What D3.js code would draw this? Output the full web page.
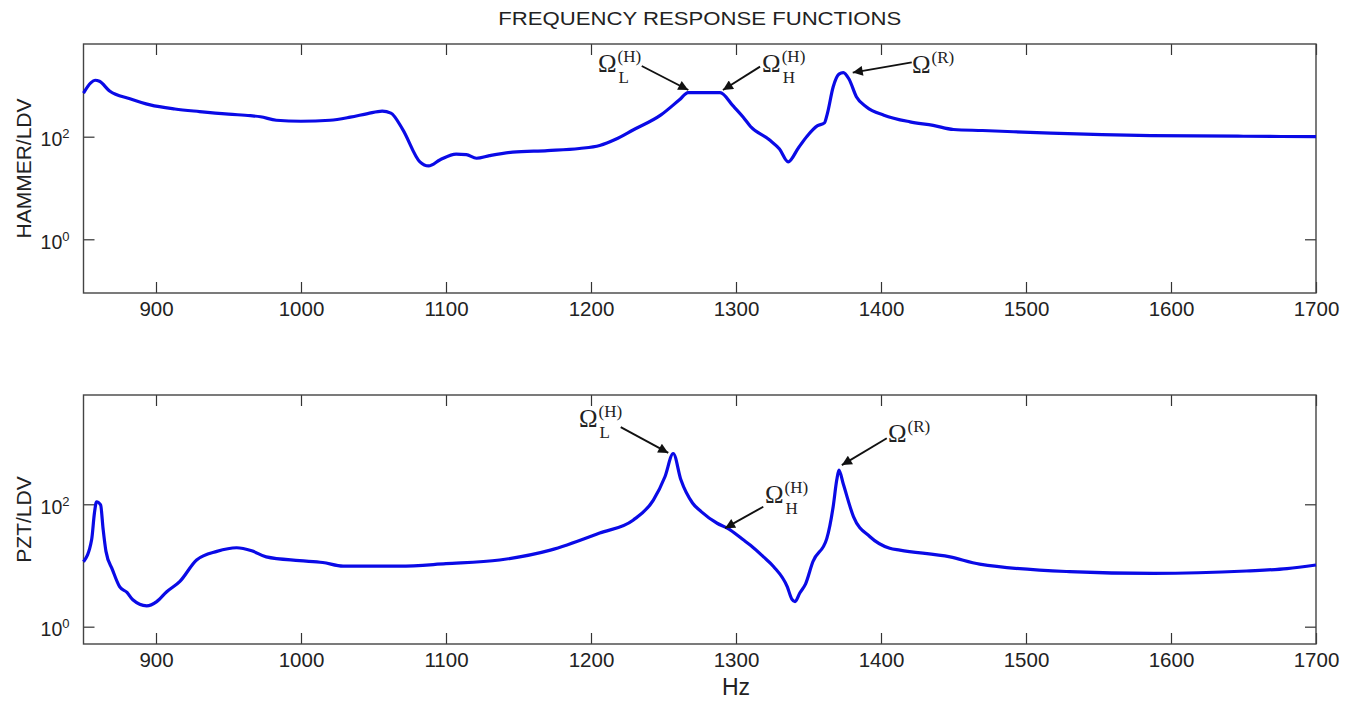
<!DOCTYPE html>
<html>
<head>
    <title>Frequency Response Functions</title>
    <script src="https://d3js.org/d3.v7.min.js"></script>
    <style>
        body { margin: 0; background: #fff; }
        text { font-family: Arial, "Liberation Sans", sans-serif; fill: #222; }
        .greek text { font-family: "Times New Roman", "Liberation Serif", serif; }
    </style>
</head>
<body>
    <script>
        // frequency axis (Hz)
        var freqTicks = [900, 1000, 1100, 1200, 1300, 1400, 1500, 1600, 1700];

        // HAMMER/LDV response
        var hammerFreq = [850, 855, 858, 861, 868, 882, 896, 913, 930, 950, 965, 972, 983, 1000, 1020, 1034, 1046, 1056, 1062, 1070,
                          1082, 1088, 1096, 1107, 1114, 1121, 1130, 1146, 1170, 1192, 1206, 1217, 1229, 1248, 1261, 1267, 1289,
                          1298, 1305, 1310, 1323, 1330, 1336, 1343, 1349, 1356, 1361, 1363, 1367, 1371, 1374, 1378, 1383, 1390,
                          1402, 1420, 1436, 1450, 1470, 1517, 1586, 1650, 1700];
        var hammerMag  = [708, 1122, 1259, 1202, 776, 550, 417, 347, 309, 275, 257, 245, 209, 200, 209, 240, 282, 316, 288, 141,
                          32.4, 26.9, 35.5, 45.7, 44.7, 38, 42.7, 50.1, 53.7, 58.9, 67.6, 89.1, 135, 263, 525, 724, 724,
                          398, 240, 158, 87.1, 57.5, 32.4, 60.3, 102, 162, 186, 282, 933, 1660, 1778, 1318, 603, 380,
                          263, 195, 166, 138, 132, 117, 105, 102, 100];

        // PZT/LDV response
        var pztFreq = [850, 855.6, 857.5, 859, 861.8, 863.5, 865.5, 870, 875, 880, 884, 893.6, 900.5, 907.4, 916.5, 928, 942, 955.6,
                       966, 976, 999, 1015, 1029, 1068, 1100, 1137, 1172, 1206, 1229, 1243, 1251, 1256.7, 1262, 1270, 1276,
                       1287, 1294, 1305, 1310, 1319, 1326, 1335.4, 1338.5, 1340.7, 1344, 1348, 1353, 1362.6, 1367, 1369.5,
                       1371, 1374, 1381, 1392.4, 1406, 1413, 1447.6, 1468, 1530, 1588, 1652, 1680, 1700];
        var pztMag  = [11.5, 26.3, 70.8, 110, 97.7, 39.8, 17, 8.5, 4.47, 3.63, 2.75, 2.19, 2.57, 3.72, 5.5, 12.3, 17, 19.5,
                       17.4, 13.8, 12, 11.2, 9.77, 9.77, 10.7, 12.3, 17.8, 33.9, 55, 117, 282, 676, 251, 105, 75.9,
                       49, 40.7, 26.3, 21.4, 13.8, 9.55, 4.47, 2.82, 2.57, 3.55, 5.01, 11.5, 27.5, 91.2, 251,
                       363, 214, 63.1, 29.5, 19.1, 17.8, 13.8, 10.5, 7.94, 7.41, 8.13, 8.9, 10.2];

        // annotations: label position, arrow tail, arrow head (Hz, magnitude)
        var hammerNotes = [
            {sub: "L", sup: "(H)", lf: 1204.8, lm: 1820, tf: 1235,   tm: 2388, hf: 1267.1, hm: 813},
            {sub: "H", sup: "(H)", lf: 1318,   lm: 1820, tf: 1316.6, tm: 2317, hf: 1291,   hm: 813},
            {sub: "",  sup: "(R)", lf: 1421.4, lm: 1738, tf: 1421.2, tm: 2818, hf: 1380.5, hm: 1778}
        ];
        var pztNotes = [
            {sub: "L", sup: "(H)", lf: 1191.7, lm: 1820, tf: 1220.5, tm: 1820, hf: 1253.3, hm: 692},
            {sub: "H", sup: "(H)", lf: 1320,   lm: 105,  tf: 1318.8, tm: 91.2, hf: 1292.4, hm: 40.7},
            {sub: "",  sup: "(R)", lf: 1404.8, lm: 1047, tf: 1404,   tm: 1202, hf: 1373,   hm: 437}
        ];

        var width = 1359, height = 702;
        var left = 83.5, right = 1316;

        var svg = d3.select("body")
                    .append("svg")
                    .attr("width", width)
                    .attr("height", height);

        svg.append("defs").append("marker")
           .attr("id", "arrow")
           .attr("viewBox", "0 0 10 10")
           .attr("refX", 10).attr("refY", 5)
           .attr("markerUnits", "userSpaceOnUse")
           .attr("markerWidth", 14).attr("markerHeight", 10)
           .attr("orient", "auto")
           .append("path")
           .attr("d", "M0,0 L10,5 L0,10 z")
           .attr("fill", "#111");

        var x = d3.scaleLinear().domain([850, 1700]).range([left, right]);

        svg.append("text")
           .attr("x", (left + right) / 2)
           .attr("y", 25)
           .attr("text-anchor", "middle")
           .attr("font-size", 19)
           .attr("textLength", 403)
           .attr("lengthAdjust", "spacingAndGlyphs")
           .text("FREQUENCY RESPONSE FUNCTIONS");

        var panels = [
            {name: "HAMMER/LDV", freq: hammerFreq, mag: hammerMag, notes: hammerNotes, top: 44, bottom: 293, lo: -1.047, hi: 3.807},
            {name: "PZT/LDV",    freq: pztFreq,    mag: pztMag,    notes: pztNotes,    top: 395, bottom: 644, lo: -0.283, hi: 3.786}
        ];

        panels.forEach(function(p) {
            var y = d3.scaleLog().domain([Math.pow(10, p.lo), Math.pow(10, p.hi)]).range([p.bottom, p.top]);
            var g = svg.append("g");

            // ticks on all four sides, pointing inwards
            g.append("g").attr("transform", "translate(0," + p.bottom + ")")
             .call(d3.axisBottom(x).tickValues(freqTicks).tickSize(-11).tickPadding(8).tickFormat(d3.format("d")))
             .selectAll("text").attr("font-size", 20.5);
            g.append("g").attr("transform", "translate(0," + p.top + ")")
             .call(d3.axisTop(x).tickValues(freqTicks).tickSize(-11).tickFormat(""));
            var yl = g.append("g").attr("transform", "translate(" + left + ",0)")
                      .call(d3.axisLeft(y).tickValues([1, 100]).tickSize(-11).tickPadding(14));
            g.append("g").attr("transform", "translate(" + right + ",0)")
             .call(d3.axisRight(y).tickValues([1, 100]).tickSize(-11).tickFormat(""));

            g.selectAll(".domain").remove();
            g.selectAll(".tick line").attr("stroke", "#333").attr("stroke-width", 1.2);
            g.selectAll(".tick text").attr("fill", "#222")
             .attr("font-family", "Arial, 'Liberation Sans', sans-serif");

            // 10^n labels
            yl.selectAll(".tick text").each(function(d) {
                var t = d3.select(this).text(null).attr("dy", "0.45em").attr("font-size", 19.5);
                t.append("tspan").text("10");
                t.append("tspan").attr("dy", "-0.6em").attr("font-size", 13).text(Math.round(Math.log10(d)));
            });

            g.append("rect")
             .attr("x", left).attr("y", p.top)
             .attr("width", right - left).attr("height", p.bottom - p.top)
             .attr("fill", "none").attr("stroke", "#444").attr("stroke-width", 1.4);

            var line = d3.line()
                         .x(function(d, i) { return x(p.freq[i]); })
                         .y(function(d) { return y(d); })
                         .curve(d3.curveMonotoneX);

            g.append("path")
             .datum(p.mag)
             .attr("d", line)
             .attr("fill", "none")
             .attr("stroke", "#0a0ae6")
             .attr("stroke-width", 3.2)
             .attr("stroke-linejoin", "round");

            g.append("text")
             .attr("transform", "translate(31," + (p.top + p.bottom) / 2 + ") rotate(-90)")
             .attr("text-anchor", "middle")
             .attr("font-size", 21)
             .text(p.name);

            // omega labels with arrows
            p.notes.forEach(function(n) {
                g.append("line")
                 .attr("x1", x(n.tf)).attr("y1", y(n.tm))
                 .attr("x2", x(n.hf)).attr("y2", y(n.hm))
                 .attr("stroke", "#111").attr("stroke-width", 1.9)
                 .attr("marker-end", "url(#arrow)");

                var lab = g.append("g").attr("class", "greek")
                           .attr("transform", "translate(" + x(n.lf) + "," + y(n.lm) + ")");
                var om = lab.append("text").attr("font-size", 25).text("\u03A9");
                var w = om.node().getComputedTextLength();
                lab.append("text").attr("x", w + 1).attr("y", -10).attr("font-size", 17).text(n.sup);
                if (n.sub) lab.append("text").attr("x", w + 2).attr("y", 11).attr("font-size", 17).text(n.sub);
            });
        });

        svg.append("text")
           .attr("x", x(1300))
           .attr("y", 695)
           .attr("text-anchor", "middle")
           .attr("font-size", 23)
           .text("Hz");
    </script>
</body>
</html>
